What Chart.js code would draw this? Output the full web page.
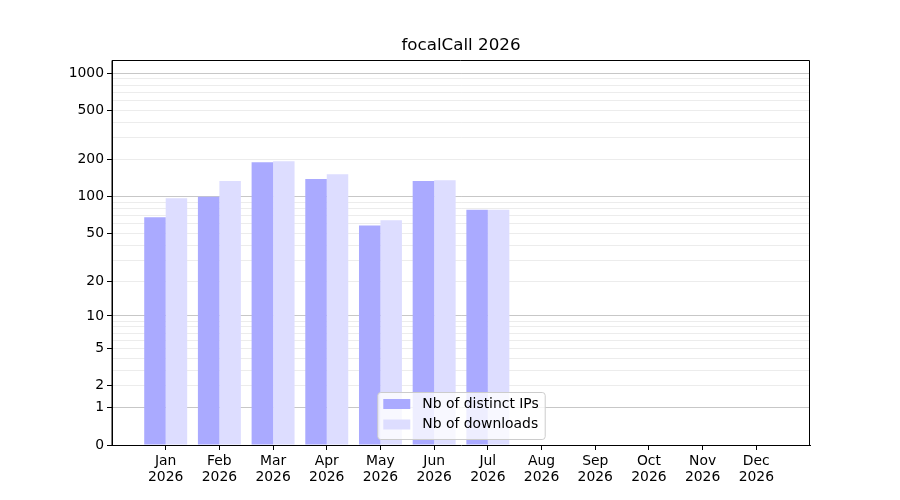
<!DOCTYPE html>
<html>
<head>
<meta charset="utf-8">
<title>focalCall 2026</title>
<script src="https://cdn.jsdelivr.net/npm/chart.js@4/dist/chart.umd.min.js"></script>
<style>
  html, body { margin: 0; padding: 0; background: #fff; }
  #wrap { width: 900px; height: 500px; }
</style>
</head>
<body>
<div id="wrap"><canvas id="chart"></canvas></div>
<script>
const months = ['Jan', 'Feb', 'Mar', 'Apr', 'May', 'Jun', 'Jul', 'Aug', 'Sep', 'Oct', 'Nov', 'Dec'];
const year = '2026';
const chartTitle = 'focalCall 2026';
const distinctIPs = [68, 100, 190, 139, 58, 134, 78, 0, 0, 0, 0, 0];
const downloads = [97, 134, 194, 152, 64, 136, 78, 0, 0, 0, 0, 0];
const yLabelTicks = [0, 1, 2, 5, 10, 20, 50, 100, 200, 500, 1000];
const yMinorTicks = [3, 4, 6, 7, 8, 9, 30, 40, 60, 70, 80, 90, 300, 400, 600, 700, 800, 900];
const yDecades = [1, 10, 100, 1000];
const yMax = 1278;

const FONT = 'DejaVu Sans';

// y = log10(1 + v) scale
const f = v => Math.log10(1 + Math.max(v, 0));

class Log1pScale extends Chart.LinearScale {
    static id = 'log1p';
    static defaults = {};

    buildTicks() {
        return yLabelTicks.concat(yMinorTicks)
            .sort((a, b) => a - b)
            .map(v => ({ value: v }));
    }

    configure() {
        super.configure();
        this._fMin = f(this.min);
        this._fMax = f(this.max);
    }

    getPixelForValue(value) {
        if (value === null || value === undefined || isNaN(value)) return NaN;
        return this.getPixelForDecimal((f(value) - this._fMin) / (this._fMax - this._fMin));
    }

    getValueForPixel(pixel) {
        const d = this.getDecimalForPixel(pixel);
        return Math.pow(10, this._fMin + d * (this._fMax - this._fMin)) - 1;
    }
}
Chart.register(Log1pScale);

// title centred over the plot area, plus top/right spines
const framePlugin = {
    id: 'frame',
    afterDraw(chart) {
        const { ctx, chartArea: a } = chart;
        ctx.save();
        ctx.strokeStyle = '#000';
        ctx.lineWidth = 1;
        ctx.beginPath();
        ctx.moveTo(a.left, a.bottom);
        ctx.lineTo(a.left, a.top + 0.5);
        ctx.lineTo(a.right - 0.5, a.top + 0.5);
        ctx.lineTo(a.right - 0.5, a.bottom);
        ctx.stroke();

        ctx.font = '16.7px "' + FONT + '"';
        ctx.fillStyle = '#000';
        ctx.textAlign = 'center';
        ctx.textBaseline = 'middle';
        ctx.fillText(chartTitle, (a.left + a.right) / 2, a.top - 14);
        ctx.restore();
    }
};

const legendPlugin = {
    id: 'innerLegend',
    afterDraw(chart) {
        const { ctx, chartArea: a } = chart;
        const sets = chart.data.datasets;
        ctx.save();
        ctx.font = '13.9px "' + FONT + '"';
        const textW = Math.max(...sets.map(d => ctx.measureText(d.label).width));
        const pad = 6, patchW = 27, patchH = 10, gap = 12, rowH = 20.5;
        const w = pad + patchW + gap + textW + pad;
        const h = 47;
        const x = (a.left + a.right) / 2 - w / 2;
        const y = a.bottom - 6 - h;

        ctx.beginPath();
        ctx.roundRect(x + 0.5, y + 0.5, w, h, 3);
        ctx.fillStyle = 'rgba(255,255,255,0.8)';
        ctx.fill();
        ctx.strokeStyle = '#cccccc';
        ctx.lineWidth = 1;
        ctx.stroke();

        ctx.textBaseline = 'middle';
        ctx.textAlign = 'left';
        sets.forEach((d, i) => {
            const cy = y + 12 + i * rowH;
            ctx.fillStyle = d.backgroundColor;
            ctx.fillRect(x + pad, cy - patchH / 2, patchW, patchH);
            ctx.fillStyle = '#000';
            ctx.fillText(d.label, x + pad + patchW + gap, cy);
        });
        ctx.restore();
    }
};

const ctx = document.getElementById('chart').getContext('2d');

const chart = new Chart(ctx, {
    type: 'bar',
    data: {
        datasets: [{
            label: 'Nb of distinct IPs',
            data: distinctIPs.map((v, i) => ({ x: i, y: v })),
            backgroundColor: '#aaaaff',
            borderWidth: 0
        }, {
            label: 'Nb of downloads',
            data: downloads.map((v, i) => ({ x: i, y: v })),
            backgroundColor: '#ddddff',
            borderWidth: 0
        }]
    },
    options: {
        responsive: true,
        maintainAspectRatio: false,
        animation: false,
        layout: { padding: { left: 0, right: 90, top: 60, bottom: 0 } },
        datasets: {
            bar: { categoryPercentage: 0.8, barPercentage: 1.0 }
        },
        plugins: {
            legend: { display: false },
            tooltip: { enabled: false },
            title: { display: false }
        },
        scales: {
            x: {
                type: 'linear',
                min: -1,
                max: 12,
                offset: false,
                afterBuildTicks: scale => {
                    scale.ticks = months.map((m, i) => ({ value: i }));
                },
                afterFit: scale => { scale.height = 55; },
                ticks: {
                    autoSkip: false,
                    maxRotation: 0,
                    color: '#000',
                    padding: 3,
                    font: { family: FONT, size: 13.9, lineHeight: 1.15 },
                    callback: (value) => [months[value], year]
                },
                grid: {
                    offset: false,
                    drawOnChartArea: false,
                    color: '#000',
                    tickLength: 5
                },
                border: { color: '#000', width: 1 }
            },
            y: {
                type: 'log1p',
                min: 0,
                max: yMax,
                z: 1,
                afterFit: scale => { scale.width = 112; },
                ticks: {
                    autoSkip: false,
                    color: '#000',
                    padding: 3,
                    font: { family: FONT, size: 13.9 },
                    callback: (value) => yLabelTicks.includes(value) ? String(value) : ''
                },
                grid: {
                    tickLength: 5,
                    color: c => {
                        const v = c.tick ? c.tick.value : null;
                        if (v === 0) return 'rgba(0,0,0,0)';
                        return yDecades.includes(v) ? 'rgba(0,0,0,0.22)' : 'rgba(0,0,0,0.075)';
                    },
                    tickColor: c => (c.tick && yLabelTicks.includes(c.tick.value)) ? '#000' : 'rgba(0,0,0,0)'
                },
                border: { color: '#000', width: 1 }
            }
        }
    },
    plugins: [framePlugin, legendPlugin]
});
</script>
</body>
</html>
